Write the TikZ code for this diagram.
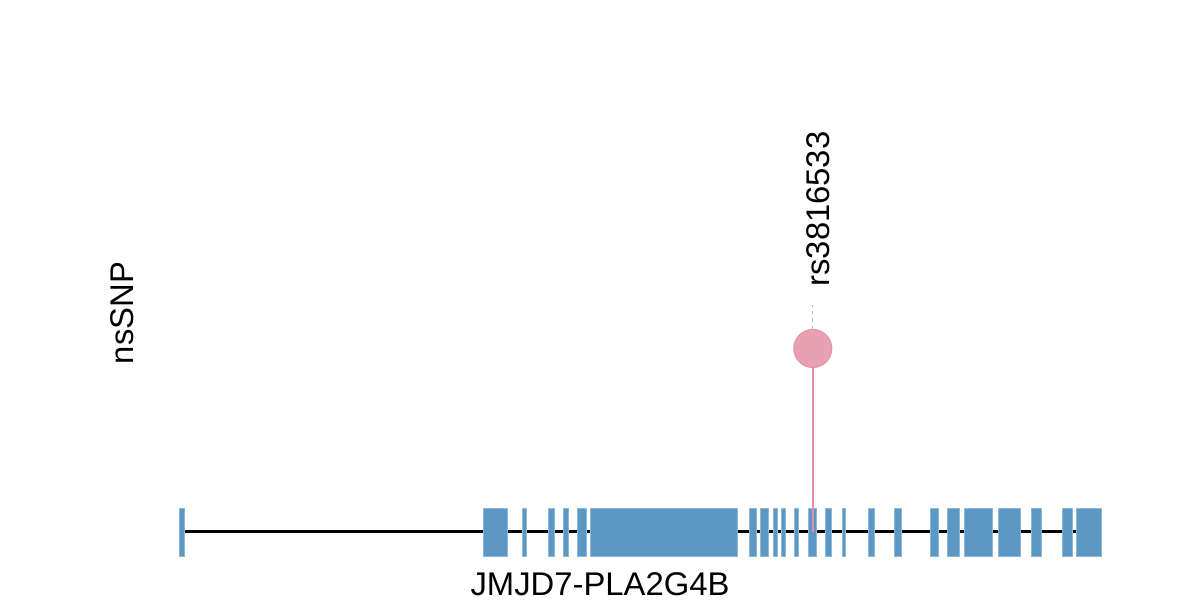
\documentclass[tikz,border=0pt]{standalone}
\usepackage{fontspec}
\setmainfont{Liberation Sans}
\definecolor{exonblue}{HTML}{5B98C4}
\definecolor{exonedge}{HTML}{8DB8D8}
\definecolor{snpfill}{HTML}{E8A1B2}
\definecolor{snpedge}{HTML}{E493A8}
\definecolor{stemc}{HTML}{E38FA7}
\tikzset{
  exon/.style={fill=exonblue, draw=exonedge, line width=0.6pt},
  lbl/.style={inner sep=0pt, font=\fontsize{24.6}{28}\selectfont},
  backbone/.style={line width=1.9pt, black},
}
\begin{document}
\begin{tikzpicture}[x=0.75pt, y=-0.75pt]
\useasboundingbox (0,0) rectangle (1200,600);
% backbone
\coordinate (bbL) at (184,531.5);
\coordinate (bbR) at (1101,531.5);
\draw[backbone] (bbL) -- (bbR);
% exons
\foreach \a/\b in {179/184, 483.3/507.3, 522.3/526.7, 548/554, 563/568.7, 577/586,
  590.3/737.3, 749/756.7, 760.7/768.3, 773.3/777, 781.7/785, 794.7/798.7,
  808.7/816.7, 825.7/831, 842.3/845.7, 868.7/874.7, 894/901.7, 930.7/938.3,
  947.7/959.7, 964/992.3, 998/1020, 1031.3/1041, 1062/1072.3, 1076.7/1101}
  \draw[exon] (\a,508) rectangle (\b,556);
% SNP
\node[circle, fill=snpfill, draw=snpedge, line width=0.8pt, minimum size=38*0.75pt, inner sep=0pt] (snp) at (812.8,348.5) {};
\coordinate (stemEnd) at (812.8,531.5);
\draw[stemc, line width=1.5pt] (snp.south) -- (stemEnd);
\coordinate (dashTop) at (812.8,305);
\draw[gray!60, line width=1pt, dash pattern=on 2.5pt off 3pt] (snp.north) -- (dashTop);
% labels
\node[lbl, rotate=90] (rs) at (818.5,209) {rs3816533};
\node[lbl, rotate=90] (ns) at (122.5,313) {nsSNP};
\node[lbl] (gene) at (600,584.5) {JMJD7-PLA2G4B};
\end{tikzpicture}
\end{document}
